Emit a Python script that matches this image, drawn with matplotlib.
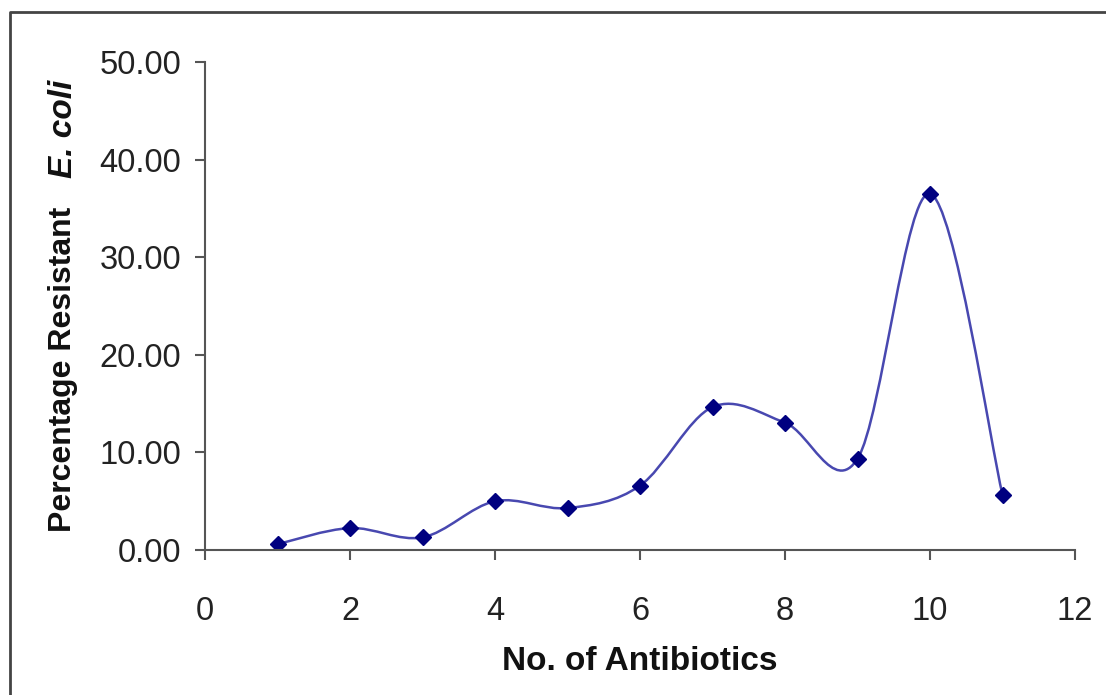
import numpy as np
import matplotlib.pyplot as plt
from matplotlib.path import Path
from matplotlib.patches import PathPatch
from matplotlib.lines import Line2D

plt.rcParams['font.family'] = ['Liberation Sans', 'DejaVu Sans']

# data
n_antibiotics = [1, 2, 3, 4, 5, 6, 7, 8, 9, 10, 11]
pct_resistant = [0.6, 2.25, 1.3, 5.0, 4.3, 6.6, 14.65, 13.05, 9.35, 36.5, 5.65]
x_ticks = [0, 2, 4, 6, 8, 10, 12]
y_ticks = [0, 10, 20, 30, 40, 50]

fig = plt.figure(figsize=(11.06, 6.95), dpi=100)
ax = fig.add_axes([0.1854, 0.2086, 0.7866, 0.7022])

# excel style smoothed line: catmull-rom as cubic bezier
x = np.array(n_antibiotics, dtype=float)
y = np.array(pct_resistant, dtype=float)
px = np.concatenate([[x[0]], x, [x[-1]]])
py = np.concatenate([[y[0]], y, [y[-1]]])
verts = [(x[0], y[0])]
codes = [Path.MOVETO]
for i in range(1, len(px) - 2):
    c1 = (px[i] + (px[i+1] - px[i-1]) / 6, py[i] + (py[i+1] - py[i-1]) / 6)
    c2 = (px[i+1] - (px[i+2] - px[i]) / 6, py[i+1] - (py[i+2] - py[i]) / 6)
    verts += [c1, c2, (px[i+1], py[i+1])]
    codes += [Path.CURVE4] * 3
ax.add_patch(PathPatch(Path(verts, codes), facecolor='none', edgecolor='#4848b0', lw=1.8))
ax.plot(x, y, linestyle='none', marker='D', markersize=8, color='#000080')

ax.set_xlim(0, 12)
ax.set_ylim(0, 50)
ax.set_xticks(x_ticks)
ax.set_yticks(y_ticks)
ax.set_yticklabels(['%.2f' % v for v in y_ticks])
for s in ['top', 'right']:
    ax.spines[s].set_visible(False)
for s in ['left', 'bottom']:
    ax.spines[s].set_color('#555555')
    ax.spines[s].set_linewidth(1.5)
ax.tick_params(axis='both', direction='out', length=7, width=1.5, color='#555555',
               labelsize=23.5, labelcolor='#222222')
ax.tick_params(axis='x', pad=26)
ax.tick_params(axis='y', pad=10)

ax.set_xlabel('No. of Antibiotics', fontsize=24, fontweight='bold', labelpad=14, color='#111111')
fig.text(0.057, 0.468, 'Percentage Resistant', rotation=90, fontsize=23, fontweight='bold',
         ha='center', va='center', color='#111111')
fig.text(0.057, 0.815, 'E. coli', rotation=90, fontsize=24, fontweight='bold', style='italic',
         ha='center', va='center', color='#111111')

# outer border (left and top visible)
fig.add_artist(Line2D([10/1106, 10/1106, 1.0], [0.0, 1 - 12/695, 1 - 12/695],
                      transform=fig.transFigure, color='#444444', lw=2))

fig.savefig('out.png', dpi=100)
